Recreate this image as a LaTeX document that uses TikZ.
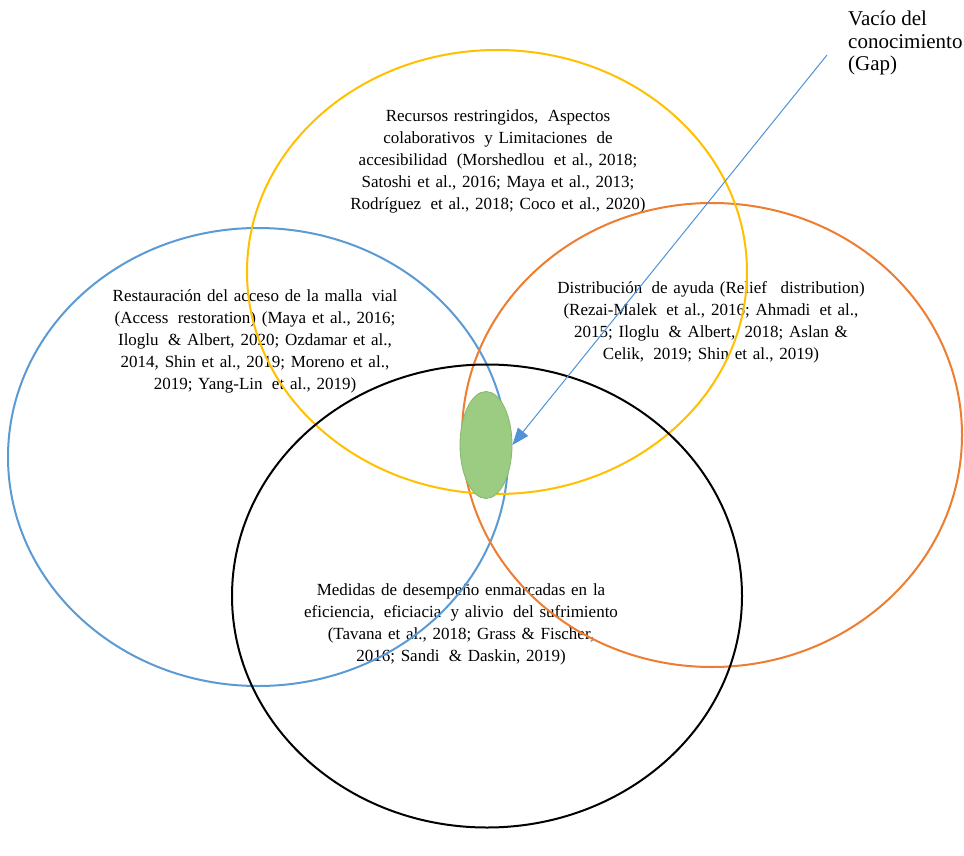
\documentclass[tikz,border=0pt]{standalone}
\usepackage{fontspec}
\setmainfont{Liberation Serif}
\usetikzlibrary{shapes.geometric,arrows.meta}
\definecolor{setyellow}{HTML}{FFC000}
\definecolor{setblue}{HTML}{5B9BD5}
\definecolor{setorange}{HTML}{ED7D31}
\definecolor{gapfill}{HTML}{9CCB82}
\definecolor{gapedge}{HTML}{86B86A}
\definecolor{arrowblue}{HTML}{4F92D8}
\newcommand{\widewords}{\fontsize{17}{22}\selectfont\spaceskip=0.34em plus 0.1em minus 0.05em\relax}
% a slightly wider gap between two words
\newcommand{\wsp}{\hspace{0.55em}}
\begin{document}
\begin{tikzpicture}[x=1pt,y=-1pt,
  setring/.style={ellipse, draw, line width=2pt, inner sep=0pt},
  settext/.style={align=center, font=\widewords, inner sep=0pt}]
\useasboundingbox (0,0) rectangle (964,856);
\fill[white] (0,0) rectangle (964,856);

% labels of the four areas
\node[settext] (tyellow) at (498,161) {Recursos restringidos,\wsp Aspectos\\colaborativos\wsp y Limitaciones\wsp de\\accesibilidad\wsp (Morshedlou\wsp et al., 2018;\\Satoshi et al., 2016; Maya et al., 2013;\\Rodríguez\wsp et al., 2018; Coco et al., 2020)};
\node[settext] (tblue) at (255,341) {Restauración del acceso de la malla\wsp vial\\(Access\wsp restoration) (Maya et al., 2016;\\Iloglu\wsp \& Albert, 2020; Ozdamar et al.,\\2014, Shin et al., 2019; Moreno et al.,\\2019; Yang-Lin\wsp et al., 2019)};
\node[settext] (torange) at (711,322) {Distribución\wsp de ayuda (Relief\hspace{0.8em}distribution)\\(Rezai-Malek\wsp et al., 2016; Ahmadi\wsp et al.,\\2015; Iloglu\wsp \& Albert,\wsp 2018; Aslan \&\\Celik,\wsp 2019; Shin et al., 2019)};
\node[settext] (tblack) at (461,624) {Medidas de desempeño enmarcadas en la\\eficiencia,\wsp eficiacia\wsp y alivio\wsp del sufrimiento\\(Tavana et al., 2018; Grass \& Fischer,\\2016; Sandi\wsp \& Daskin, 2019)};

% the four overlapping sets
\node[setring, draw=setblue, minimum width=500pt, minimum height=458pt] (blue) at (258,457) {};
\node[setring, draw=setorange, minimum width=500pt, minimum height=464pt] (orange) at (712,435) {};
\node[setring, draw=setyellow, minimum width=500pt, minimum height=444pt] (yellow) at (497,272) {};
\node[setring, draw=black, minimum width=510pt, minimum height=463pt] (black) at (487,596) {};

% knowledge gap
\node[ellipse, fill=gapfill, draw=gapedge, line width=0.8pt, minimum width=52pt, minimum height=107pt, inner sep=0pt] (gap) at (486,445) {};
\node[align=left, anchor=north west, font=\fontsize{21}{22.5}\selectfont, inner sep=0pt] (gaplabel) at (848,11) {Vacío del\\conocimiento\\(Gap)};
\coordinate (gapstart) at (827,55);
\draw[arrowblue, line width=1pt, -{Triangle[length=17pt,width=13pt]}] (gapstart) -- (gap.east);
\end{tikzpicture}
\end{document}
